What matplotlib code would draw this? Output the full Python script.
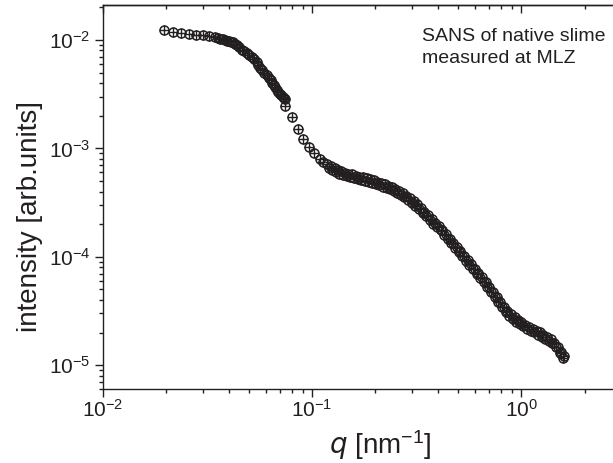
import matplotlib
matplotlib.use("Agg")
import matplotlib.pyplot as plt
from matplotlib.ticker import LogLocator, NullFormatter

plt.rcParams['font.family'] = ['Liberation Sans', 'DejaVu Sans']
plt.rcParams['mathtext.default'] = 'regular'

ink = '#231f20'

####################### SANS data #######################
# first detector setting, low q
q_low = [0.0197, 0.0216, 0.0237, 0.0257, 0.0280, 0.0301, 0.0321, 0.0342, 0.0355, 0.0364,
         0.0374, 0.0384, 0.0394, 0.0403, 0.0412, 0.0421, 0.0429, 0.0437, 0.0450, 0.0462,
         0.0475, 0.0488, 0.0502, 0.0516, 0.0529, 0.0543, 0.0554, 0.0567, 0.0579, 0.0592,
         0.0608, 0.0622, 0.0635, 0.0646, 0.0658, 0.0668, 0.0678, 0.0690, 0.0704, 0.0714,
         0.0725, 0.0734, 0.0743]
I_low = [12.4e-3, 11.8e-3, 11.7e-3, 11.4e-3, 11.0e-3, 11.0e-3, 10.8e-3, 10.6e-3, 10.4e-3, 10.3e-3,
         10.15e-3, 10.0e-3, 9.88e-3, 9.75e-3, 9.62e-3, 9.54e-3, 9.2e-3, 9.03e-3, 8.6e-3, 8.12e-3,
         7.85e-3, 7.55e-3, 7.3e-3, 7.0e-3, 6.65e-3, 6.25e-3, 5.85e-3, 5.55e-3, 5.24e-3, 4.98e-3,
         4.71e-3, 4.45e-3, 4.23e-3, 4.03e-3, 3.83e-3, 3.65e-3, 3.45e-3, 3.32e-3, 3.19e-3, 3.08e-3,
         2.97e-3, 2.92e-3, 2.87e-3]

# second setting, sparse part
q_mid = [0.0746, 0.0800, 0.0855, 0.0909, 0.0971, 0.1026, 0.1092, 0.1132]
I_mid = [2.44e-3, 1.94e-3, 1.52e-3, 1.23e-3, 1.03e-3, 9.05e-4, 8.03e-4, 7.48e-4]

# dense part up to high q
q_high = [0.118, 0.120, 0.123, 0.125, 0.128, 0.130, 0.133, 0.135, 0.138, 0.141,
          0.144, 0.146, 0.149, 0.152, 0.155, 0.159, 0.162, 0.165, 0.168, 0.172,
          0.175, 0.179, 0.182, 0.186, 0.190, 0.193, 0.197, 0.201, 0.205, 0.209,
          0.214, 0.218, 0.222, 0.227, 0.231, 0.236, 0.241, 0.245, 0.250, 0.255,
          0.260, 0.266, 0.271, 0.276, 0.282, 0.288, 0.293, 0.299, 0.305, 0.311,
          0.318, 0.324, 0.331, 0.337, 0.344, 0.351, 0.358, 0.365, 0.372, 0.380,
          0.387, 0.395, 0.403, 0.411, 0.419, 0.428, 0.436, 0.445, 0.454, 0.463,
          0.472, 0.482, 0.491, 0.501, 0.511, 0.521, 0.532, 0.542, 0.553, 0.564,
          0.576, 0.587, 0.599, 0.611, 0.623, 0.636, 0.648, 0.661, 0.675, 0.688,
          0.702, 0.716, 0.730, 0.745, 0.760, 0.775, 0.791, 0.806, 0.823, 0.839,
          0.856, 0.873, 0.890, 0.908, 0.926, 0.945, 0.964, 0.983, 1.00, 1.02,
          1.04, 1.06, 1.09, 1.11, 1.13, 1.15, 1.18, 1.20, 1.22, 1.25,
          1.27, 1.30, 1.32, 1.35, 1.38, 1.40, 1.43, 1.46, 1.49, 1.52,
          1.55, 1.58, 1.60]
I_high = [7.17e-4, 6.63e-4, 6.86e-4, 6.35e-4, 6.55e-4, 6.06e-4, 6.29e-4, 5.86e-4, 6.13e-4, 5.67e-4,
          5.96e-4, 5.58e-4, 5.85e-4, 5.47e-4, 5.75e-4, 5.34e-4, 5.60e-4, 5.23e-4, 5.50e-4, 5.13e-4,
          5.41e-4, 5.03e-4, 5.30e-4, 4.94e-4, 5.18e-4, 4.84e-4, 5.08e-4, 4.72e-4, 4.94e-4, 4.59e-4,
          4.78e-4, 4.43e-4, 4.65e-4, 4.31e-4, 4.51e-4, 4.18e-4, 4.36e-4, 4.04e-4, 4.20e-4, 3.88e-4,
          4.03e-4, 3.71e-4, 3.84e-4, 3.53e-4, 3.65e-4, 3.34e-4, 3.46e-4, 3.15e-4, 3.24e-4, 2.97e-4,
          3.04e-4, 2.77e-4, 2.81e-4, 2.55e-4, 2.61e-4, 2.37e-4, 2.42e-4, 2.18e-4, 2.24e-4, 2.02e-4,
          2.07e-4, 1.88e-4, 1.92e-4, 1.75e-4, 1.78e-4, 1.60e-4, 1.63e-4, 1.46e-4, 1.47e-4, 1.33e-4,
          1.35e-4, 1.20e-4, 1.23e-4, 1.11e-4, 1.12e-4, 1.01e-4, 1.02e-4, 9.2e-5, 9.4e-5, 8.4e-5,
          8.55e-5, 7.66e-5, 7.75e-5, 6.98e-5, 7.11e-5, 6.35e-5, 6.49e-5, 5.82e-5, 5.87e-5, 5.24e-5,
          5.25e-5, 4.70e-5, 4.74e-5, 4.23e-5, 4.24e-5, 3.80e-5, 3.81e-5, 3.43e-5, 3.47e-5, 3.12e-5,
          3.16e-5, 2.86e-5, 2.94e-5, 2.68e-5, 2.76e-5, 2.53e-5, 2.62e-5, 2.40e-5, 2.49e-5, 2.29e-5,
          2.36e-5, 2.18e-5, 2.26e-5, 2.09e-5, 2.17e-5, 2.01e-5, 2.08e-5, 1.92e-5, 2.01e-5, 1.83e-5,
          1.92e-5, 1.76e-5, 1.83e-5, 1.69e-5, 1.73e-5, 1.59e-5, 1.62e-5, 1.46e-5, 1.46e-5, 1.31e-5,
          1.32e-5, 1.17e-5, 1.21e-5]

####################### Figure #######################
fig = plt.figure(figsize=(6.13, 4.63), dpi=100)
# axes runs past the right border of the image
ax = fig.add_axes([0.1675, 0.1592, 0.922, 0.830])

for q, I in [(q_low, I_low), (q_mid, I_mid), (q_high, I_high)]:
    ax.plot(q, I, 'o', mfc='none', mec=ink, ms=6.5, mew=1.1)
    ax.plot(q, I, '+', color=ink, ms=6.5, mew=1.0)

ax.set_xscale('log')
ax.set_yscale('log')
ax.set_xlim(0.01, 5)
ax.set_ylim(6e-6, 2.1e-2)

ax.yaxis.set_minor_locator(LogLocator(subs=range(2, 10)))
ax.xaxis.set_minor_locator(LogLocator(subs=range(2, 10)))
ax.xaxis.set_minor_formatter(NullFormatter())
ax.yaxis.set_minor_formatter(NullFormatter())

for s in ax.spines.values():
    s.set_linewidth(1.0)
    s.set_color(ink)
ax.tick_params(which='both', color=ink, width=1.0, labelcolor=ink, labelsize=15)
ax.tick_params(axis='x', which='both', direction='out', top=False, pad=1)
ax.tick_params(axis='y', which='both', direction='out', right=False, pad=3)
ax.tick_params(which='major', length=5.8)
ax.tick_params(which='minor', length=3.2)

# top axis: same ticks pointing inwards, no labels
top = ax.secondary_xaxis('top')
top.xaxis.set_minor_locator(LogLocator(subs=range(2, 10)))
top.xaxis.set_minor_formatter(NullFormatter())
top.tick_params(which='both', direction='in', color=ink, width=1.0, labeltop=False)
top.tick_params(which='major', length=5.8)
top.tick_params(which='minor', length=3.2)
top.spines['top'].set_linewidth(1.0)
top.spines['top'].set_color(ink)

fig.text(30 / 613, 1 - 216 / 463, 'intensity [arb.units]', rotation=90,
         ha='center', va='center', fontsize=20, color=ink)
fig.text(380 / 613, 1 - 454 / 463, r'$\it{q}$ [nm$^{-1}$]', ha='center', va='baseline',
         fontsize=20, color=ink)

fig.text(421.7 / 613, 1 - 41 / 463, 'SANS of native slime', ha='left', va='baseline',
         fontsize=14, color=ink)
fig.text(421.7 / 613, 1 - 63 / 463, 'measured at MLZ', ha='left', va='baseline',
         fontsize=14, color=ink)

fig.savefig('out.png', dpi=100)
